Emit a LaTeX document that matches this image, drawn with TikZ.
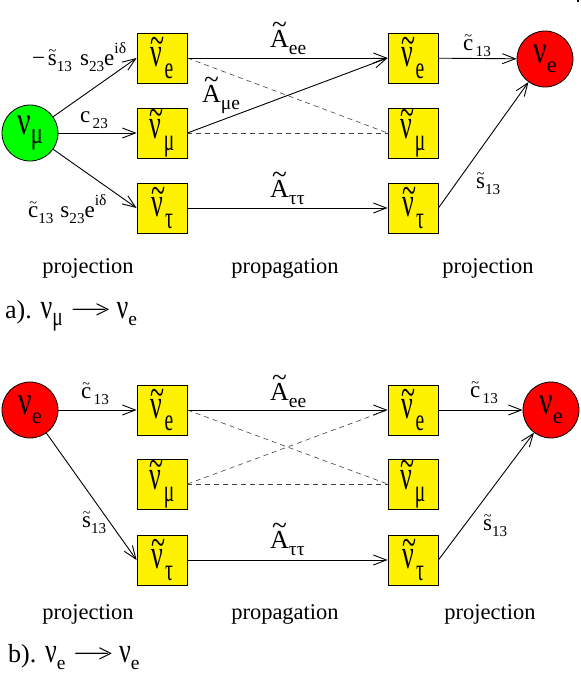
\documentclass[tikz,border=0pt]{standalone}
\usepackage{fontspec}
\setmainfont{Liberation Serif}
\usetikzlibrary{arrows.meta}
\newcommand\lo[2][0.75]{\raisebox{-0.28em}{\scalebox{#1}{#2}}}
\newcommand\hi[1]{\raisebox{0.5em}{\scalebox{0.68}{#1}}}
% tilde: raise, scale, base
\newcommand\tld[3]{\ooalign{\hfil\raisebox{#1}{\scalebox{#2}{\char"7E}}\hfil\cr#3\cr}}
\newcommand\tn{\tld{0.3em}{1}{ν}}
\newcommand\tA{\tld{0.52em}{1.05}{A}}
\newcommand\ts{\tld{0.4em}{0.62}{s}}
\newcommand\tc{\tld{0.4em}{0.62}{c}}
\newcommand\gk[1]{\scalebox{1}[1.35]{#1}}
\newcommand\bx[1]{\scalebox{1}[1.6]{#1}}
\newcommand\myarrow{\scalebox{2.7}[1]{−}\kern-0.52em>}
\begin{document}
\begin{tikzpicture}[x=1pt,y=-1pt,
  box/.style={draw=black, fill=yellow, minimum width=50, minimum height=50, inner sep=0, line width=0.8, font=\fontsize{26}{26}\selectfont},
  circ/.style={circle, draw=black, minimum size=56, inner sep=0, line width=0.8, font=\fontsize{30}{30}\selectfont},
  arr/.style={-{Straight Barb[length=13pt,width=10pt]}, line width=0.9},
  dsh/.style={draw=black!75, dash pattern=on 5pt off 4pt, line width=0.6},
  lbl/.style={inner sep=0, anchor=base west, font=\fontsize{23}{23}\selectfont},
  albl/.style={inner sep=0, anchor=base west, font=\fontsize{26}{26}\selectfont},
  captxt/.style={inner sep=0, anchor=base, font=\fontsize{22.5}{22.5}\selectfont},
  ttl/.style={inner sep=0, anchor=base west, font=\fontsize{26}{26}\selectfont}]
\useasboundingbox (0,0) rectangle (581,673);
\fill (577,0) rectangle (579,2);
% ---------------- a) ----------------
\node[circ, fill=green] (a0) at (30,133) {\gk{ν}\lo{\gk{μ}}};
\node[box] (e1) at (162,58) {\bx{\tn\lo{e}}};
\node[box] (m1) at (162,133) {\bx{\tn\lo{μ}}};
\node[box] (t1) at (162,208) {\bx{\tn\lo{τ}}};
\node[box] (e2) at (413,58) {\bx{\tn\lo{e}}};
\node[box] (m2) at (413,133) {\bx{\tn\lo{μ}}};
\node[box] (t2) at (413,208) {\bx{\tn\lo{τ}}};
\node[circ, fill=red] (b0) at (545,59) {\gk{ν}\lo{e}};

\draw[arr] (a0) -- (e1.west);
\draw[arr] (a0) -- (m1.west);
\draw[arr] (a0) -- (t1.west);
\draw[arr] (e1.east) -- (e2.west);
\draw[dsh] (e1.east) -- (m2.west);
\draw[dsh] (m1.east) -- (m2.west);
\draw[arr] (m1.east) -- (e2.west);
\draw[arr] (t1.east) -- (t2.west);
\draw[arr] (e2) -- (b0);
\draw[arr] (t2.east) -- (b0);

\node[lbl] (la1) at (32,65) {−\kern0.12em\ts\lo[0.66]{13}\kern0.35em s\lo[0.66]{23}e\hi{iδ}};
\node[lbl] (la2) at (80,122) {c\kern0.1em\lo[0.66]{23}};
\node[lbl] (la3) at (28,217) {\tc\lo[0.66]{13}\kern0.3em s\lo[0.66]{23}e\hi{iδ}};
\node[albl] (la4) at (270,47) {\tA\lo{ee}};
\node[albl] (la5) at (202,102) {\tA\lo{μe}};
\node[albl] (la6) at (270,197) {\tA\lo{ττ}};
\node[lbl] (la7) at (463,50) {\tc\kern0.1em\lo[0.66]{13}};
\node[lbl] (la8) at (476,188) {\ts\lo[0.66]{13}};

\node[captxt] (pa1) at (88,273) {projection};
\node[captxt] (pa2) at (285,273) {propagation};
\node[captxt] (pa3) at (488,273) {projection};
\node[ttl] (ta) at (5,318) {a). \gk{ν}\lo{\gk{μ}} \myarrow\ \gk{ν}\lo{e}};

% ---------------- b) ----------------
\node[circ, fill=red] (c0) at (30,410) {\gk{ν}\lo{e}};
\node[box] (e3) at (162,410) {\bx{\tn\lo{e}}};
\node[box] (m3) at (162,484) {\bx{\tn\lo{μ}}};
\node[box] (t3) at (162,560) {\bx{\tn\lo{τ}}};
\node[box] (e4) at (413,410) {\bx{\tn\lo{e}}};
\node[box] (m4) at (413,484) {\bx{\tn\lo{μ}}};
\node[box] (t4) at (413,560) {\bx{\tn\lo{τ}}};
\node[circ, fill=red] (d0) at (551,410) {\gk{ν}\lo{e}};

\draw[arr] (c0) -- (e3);
\draw[arr] (c0) -- (t3.west);
\draw[arr] (e3) -- (e4);
\draw[dsh] (e3.east) -- (m4.west);
\draw[dsh] (m3.east) -- (e4.west);
\draw[dsh] (m3.east) -- (m4.west);
\draw[arr] (t3) -- (t4);
\draw[arr] (e4) -- (d0);
\draw[arr] (t4.east) -- (d0);

\node[lbl] (lb1) at (81,398) {\tc\kern0.1em\lo[0.66]{13}};
\node[lbl] (lb2) at (82,527) {\ts\lo[0.66]{13}};
\node[albl] (lb3) at (270,400) {\tA\lo{ee}};
\node[albl] (lb4) at (270,548) {\tA\lo{ττ}};
\node[lbl] (lb5) at (470,397) {\tc\kern0.1em\lo[0.66]{13}};
\node[lbl] (lb6) at (483,530) {\ts\lo[0.66]{13}};

\node[captxt] (pb1) at (88,619) {projection};
\node[captxt] (pb2) at (285,619) {propagation};
\node[captxt] (pb3) at (490,619) {projection};
\node[ttl] (tb) at (8,662) {b). \gk{ν}\lo{e} \myarrow\ \gk{ν}\lo{e}};
\end{tikzpicture}
\end{document}
